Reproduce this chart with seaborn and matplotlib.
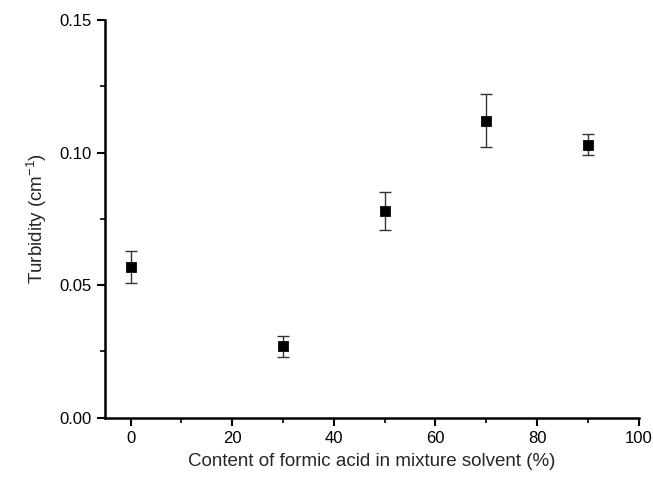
import matplotlib
matplotlib.use("Agg")
import matplotlib.pyplot as plt
import seaborn as sns
import pandas as pd
from matplotlib.ticker import MultipleLocator

content = [0, 30, 50, 70, 90]
turbidity = [0.057, 0.027, 0.078, 0.112, 0.103]
err = [0.006, 0.004, 0.007, 0.010, 0.004]

df = pd.DataFrame({"content": content, "turbidity": turbidity, "err": err})

sns.set_style("ticks")
plt.rcParams["font.family"] = ["Liberation Sans", "DejaVu Sans"]
plt.rcParams["mathtext.fontset"] = "custom"
plt.rcParams["mathtext.rm"] = "Liberation Sans"
plt.rcParams["mathtext.it"] = "Liberation Sans"

fig = plt.figure(figsize=(6.53, 4.78), dpi=100)
ax = fig.add_axes([0.161, 0.126, 0.817, 0.832])

ax.errorbar(df["content"], df["turbidity"], yerr=df["err"], fmt="none",
            ecolor="#333333", elinewidth=1, capsize=4, capthick=1, zorder=2)
sns.scatterplot(data=df, x="content", y="turbidity", marker="s", s=50,
                color="black", edgecolor="black", ax=ax, zorder=3)

ax.set_xlim(-5, 100)
ax.set_ylim(0, 0.15)
ax.xaxis.set_major_locator(MultipleLocator(20))
ax.xaxis.set_minor_locator(MultipleLocator(10))
ax.yaxis.set_major_locator(MultipleLocator(0.05))
ax.yaxis.set_minor_locator(MultipleLocator(0.025))
ax.yaxis.set_major_formatter(matplotlib.ticker.FormatStrFormatter("%.2f"))

sns.despine(ax=ax)
for s in ["left", "bottom"]:
    ax.spines[s].set_linewidth(1.8)
    ax.spines[s].set_color("black")
ax.tick_params(which="major", length=6, width=1.5, labelsize=12, colors="black")
ax.tick_params(which="minor", length=3.5, width=1.2, colors="black")

ax.set_xlabel("Content of formic acid in mixture solvent (%)", fontsize=13.5, labelpad=5)
ax.set_ylabel("Turbidity (cm$^{-1}$)", fontsize=13.5, labelpad=8)

fig.savefig("out.png", dpi=100)
